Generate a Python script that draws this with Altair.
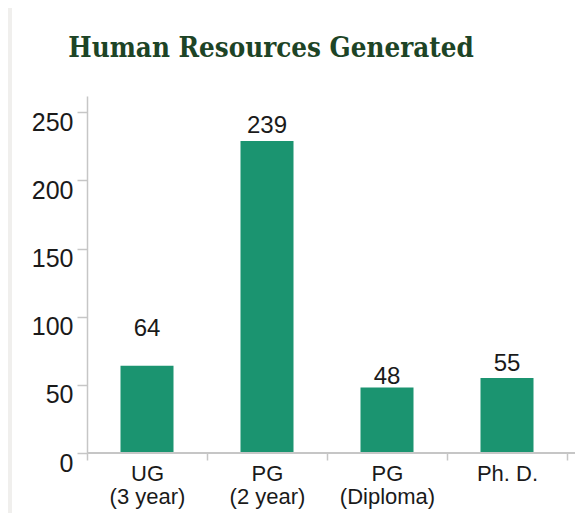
import altair as alt
import pandas as pd

# ---- data ----
categories = ["UG\n(3 year)", "PG\n(2 year)", "PG\n(Diploma)", "Ph. D."]
bar_values = [64, 229, 48, 55]          # bar heights as drawn in the reference
label_texts = ["64", "239", "48", "55"]  # printed value labels
label_at = [86, 235, 51, 60]             # label baselines (data units) as in the reference
y_ticks = [0, 50, 100, 150, 200, 250]
title_text = "Human Resources Generated"

df = pd.DataFrame({
    "cat": categories,
    "value": bar_values,
    "label": label_texts,
    "label_at": label_at,
})

GRID = "#c6c6c6"
GREEN = "#1b9470"
TXT = "#1a1a1a"
FONT = "Liberation Sans"

x_scale = alt.Scale(domain=categories, paddingInner=0, paddingOuter=0)
y_scale = alt.Scale(domain=[0, 262], nice=False)

# white panel behind everything (canvas background is the gray frame)
panel = alt.Chart(df).mark_rect(color="white").encode(
    x=alt.value(-75), x2=alt.value(600), y=alt.value(-100), y2=alt.value(480)
)

title = alt.Chart(pd.DataFrame({"t": [title_text]})).mark_text(
    font="DejaVu Serif Condensed, Liberation Serif, serif", fontSize=27.5,
    fontWeight="bold", color="#1d4426", align="center", baseline="alphabetic",
).encode(x=alt.value(184), y=alt.value(-39), text="t:N")

bars = alt.Chart(df).mark_bar(color=GREEN, size=53).encode(
    x=alt.X("cat:N", scale=x_scale, sort=categories,
            axis=alt.Axis(title=None, labelAngle=0, labelFont=FONT, labelFontSize=22,
                          labelColor=TXT, labelLineHeight=23, labelPadding=3,
                          tickBand="extent", tickSize=7, tickColor=GRID, tickWidth=1.5,
                          domain=False, zindex=1, labelExpr="split(datum.label, '\\n')")),
    y=alt.Y("value:Q", scale=y_scale,
            axis=alt.Axis(title=None, values=y_ticks, labelFont=FONT, labelFontSize=25,
                          labelColor=TXT, tickSize=10, tickColor=GRID, tickWidth=1.5,
                          domainColor=GRID, domainWidth=1.5, grid=False, zindex=1,
                          labelPadding=4, labelBaseline="top", labelOffset=-2)),
)

labels = alt.Chart(df).mark_text(font=FONT, fontSize=24, color=TXT, baseline="alphabetic").encode(
    x=alt.X("cat:N", scale=x_scale, sort=categories),
    y=alt.Y("label_at:Q", scale=y_scale),
    text="label:N",
)

xline = alt.Chart(df).mark_rule(color=GRID, strokeWidth=2).encode(
    x=alt.value(0), x2=alt.value(488), y=alt.value(357)
)

chart = alt.layer(panel, title, bars, labels, xline).properties(
    width=480,
    height=357,
    autosize=alt.AutoSizeParams(type="none"),
    padding={"left": 79, "top": 88, "right": 10, "bottom": 60},
    background="#f0efed",
).configure_view(stroke=None)

chart.save("out.html", embed_options={"renderer": "svg", "actions": False})
